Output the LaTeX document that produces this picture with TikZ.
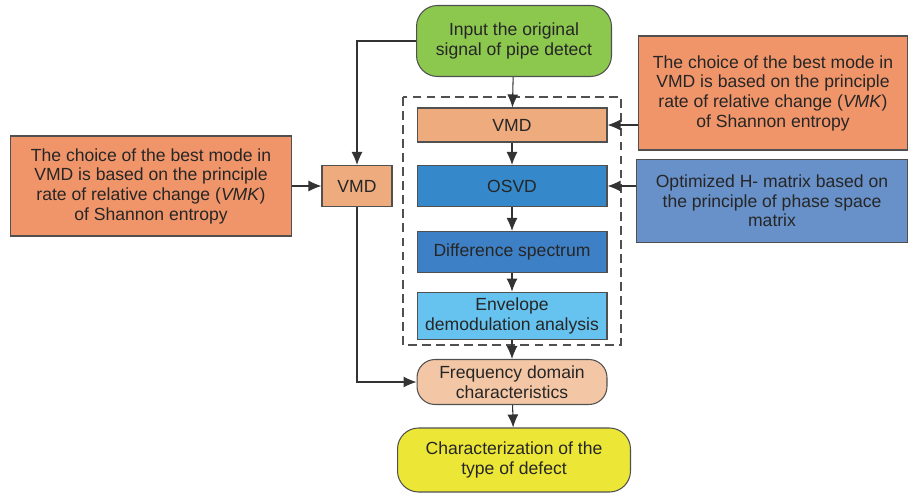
\documentclass[tikz,border=0pt]{standalone}
\usepackage{fontspec}
\setmainfont{Liberation Sans}
\usepackage{xcolor}
\usetikzlibrary{arrows.meta,positioning,shapes,calc}

\definecolor{ingreen}{HTML}{8CC74E}
\definecolor{vmdorange}{HTML}{EEAB7E}
\definecolor{noteorange}{HTML}{F0956A}
\definecolor{osvdblue}{HTML}{3589CA}
\definecolor{diffblue}{HTML}{3E80C5}
\definecolor{envblue}{HTML}{66C3EF}
\definecolor{notblue}{HTML}{6891C9}
\definecolor{freqpeach}{HTML}{F3C7A6}
\definecolor{outyellow}{HTML}{ECE737}
\definecolor{edgegray}{HTML}{505050}

\begin{document}
\begin{tikzpicture}[
    x=0.02cm, y=-0.02cm,
    box/.style={rectangle, draw=edgegray, line width=0.6pt, minimum width=3.8cm, minimum height=0.68cm, font=\fontsize{10}{11.2}\selectfont, align=center, text=black!85},
    roundbox/.style={box, rounded corners=0.36cm},
    note/.style={box, fill=noteorange},
    arrow/.style={-{Latex[length=2.6mm,width=2.2mm]}, line width=0.6pt, draw=black!80}
]
    \useasboundingbox (0,0) rectangle (908,496);

    \node[roundbox, fill=ingreen, minimum width=3.9cm, minimum height=1.42cm, rounded corners=0.42cm] (input) at (514,41) {Input the original\\signal of pipe detect};

    \node[box, fill=vmdorange] (vmd) at (512,125) {VMD};
    \node[box, fill=osvdblue, minimum height=0.82cm] (osvd) at (512,186) {OSVD};
    \node[box, fill=diffblue, minimum height=0.82cm] (diff) at (512,252) {Difference spectrum};
    \node[box, fill=envblue, minimum height=0.84cm] (envelope) at (512,316) {Envelope\\demodulation analysis};
    \draw[dashed, edgegray, line width=0.6pt, dash pattern=on 5pt off 3pt] (403,97) rectangle (621,345);

    \node[roundbox, fill=freqpeach, minimum height=0.9cm] (freq) at (512,382) {Frequency domain\\characteristics};
    \node[roundbox, fill=outyellow, minimum width=4.66cm, minimum height=1.28cm, rounded corners=0.42cm] (output) at (514,460) {Characterization of the\\type of defect};

    \node[note, minimum width=5.4cm, minimum height=2.28cm] (noteR) at (773,93) {The choice of the best mode in\\VMD is based on the principle\\rate of relative change (\textit{VMK})\\of Shannon entropy};
    \node[box, fill=notblue, minimum width=5.42cm, minimum height=1.66cm] (noteH) at (772,201) {Optimized H- matrix based on\\the principle of phase space\\matrix};

    \node[note, minimum width=5.62cm, minimum height=2.0cm] (noteL) at (151,186) {The choice of the best mode in\\VMD is based on the principle\\rate of relative change (\textit{VMK})\\of Shannon entropy};
    \node[box, fill=vmdorange, minimum width=1.4cm, minimum height=0.82cm] (vmdL) at (357,186) {VMD};

    % main chain
    \draw[arrow] (input) -- (vmd);
    \draw[arrow] (vmd) -- (osvd);
    \draw[arrow] (osvd) -- (diff);
    \draw[arrow] (diff) -- (envelope);
    \draw[arrow] (envelope) -- (freq);
    \draw[arrow] (freq) -- (output);

    % side inputs
    \draw[arrow] (noteR.west |- vmd) -- (vmd);
    \draw[arrow] (noteH.west |- osvd) -- (osvd);
    \draw[arrow] (noteL.east |- vmdL) -- (vmdL);

    % left branch
    \draw[arrow] (input.west) -| (vmdL.north);
    \draw[arrow] (vmdL.south) |- (freq.west);
\end{tikzpicture}
\end{document}
